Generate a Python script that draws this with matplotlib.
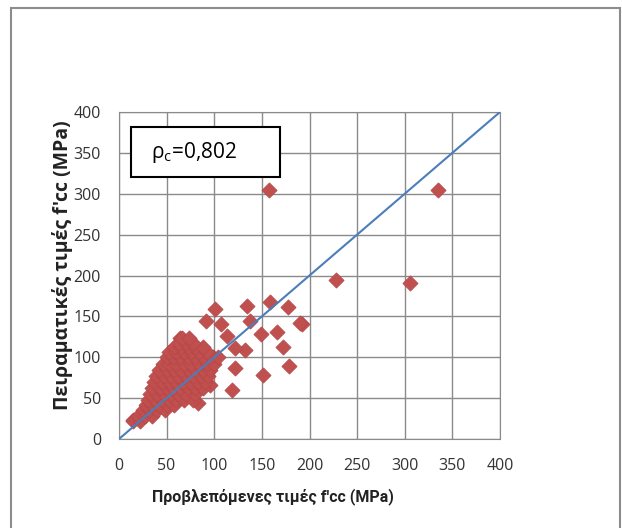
import matplotlib.pyplot as plt
from matplotlib.patches import Rectangle

plt.rcParams['font.family'] = ['Open Sans', 'DejaVu Sans']
plt.rcParams['mathtext.fontset'] = 'custom'
plt.rcParams['mathtext.rm'] = 'Open Sans'

# predicted (x) vs experimental (y) f'cc, MPa - read off the picture
# sparse points
pred_sparse = [157, 335, 228, 305, 101, 134, 159, 177, 91, 107, 138, 192,
               113, 149, 166, 172, 132, 122, 122, 178, 151, 119, 96, 99,
               83, 73, 64, 15, 190]
exp_sparse = [305, 305, 195, 191, 159, 163, 167, 162, 144, 141, 144, 141,
              126, 128, 131, 113, 109, 111, 87, 89, 78, 60, 66, 100,
              44, 121, 123, 23, 142]

# dense cluster, row by row
cluster_rows = {
    22: [15, 22],
    28: [20, 27, 35],
    35: [25, 32, 40, 48],
    42: [28, 35, 42, 50, 58],
    48: [30, 38, 45, 52, 60, 68, 78],
    55: [33, 40, 47, 55, 62, 70, 80],
    62: [35, 43, 50, 57, 64, 72, 80, 88],
    70: [37, 45, 52, 60, 67, 75, 83, 90],
    77: [39, 47, 55, 62, 70, 78, 86, 93],
    85: [42, 50, 58, 65, 73, 80, 88, 96],
    92: [46, 53, 60, 68, 76, 84, 92, 100],
    100: [50, 57, 64, 72, 80, 88, 97, 104],
    107: [53, 60, 68, 76, 84, 92],
    113: [58, 65, 72, 80, 88],
    118: [63, 70, 78],
    123: [66, 74],
}

pred = list(pred_sparse)
exp = list(exp_sparse)
for yv, xs in cluster_rows.items():
    for xv in xs:
        pred.append(xv)
        exp.append(yv)

ticks = [0, 50, 100, 150, 200, 250, 300, 350, 400]

fig = plt.figure(figsize=(6.22, 5.28), dpi=100)
fig.patches.append(Rectangle((11 / 622, -0.05), 609 / 622, 1 - 8 / 528 + 0.05,
                             transform=fig.transFigure, fill=False,
                             edgecolor='#8c8c8c', lw=1.5))
ax = fig.add_axes([119 / 622, 1 - 439 / 528, 381 / 622, 327 / 528])

ax.scatter(pred, exp, marker='D', s=60, color='#C0504D', edgecolor='#B8444A',
           linewidth=0.5, zorder=3)
ax.plot([0, 400], [0, 400], color='#4A7EBB', lw=1.5, zorder=4)

ax.set_xlim(0, 400)
ax.set_ylim(0, 400)
ax.set_xticks(ticks)
ax.set_yticks(ticks)
ax.grid(True, color='#8a8a8a', lw=1)
ax.set_axisbelow(True)
for s in ax.spines.values():
    s.set_color('#8a8a8a')
ax.tick_params(length=0, labelsize=11.5, labelcolor='#333333')
ax.tick_params(axis='x', pad=14)
ax.tick_params(axis='y', pad=13)

ax.add_patch(Rectangle((12.6, 320.5), 156.5, 61.5, facecolor='white',
                       edgecolor='black', lw=1.5, zorder=5))
ax.text(33.6, 351, r'ρ$_{\mathrm{c}}$=0,802', fontsize=15, va='center',
        ha='left', zorder=6)

fig.text(273 / 622, 1 - 497 / 528, "Προβλεπόμενες τιμές f'cc (MPa)",
         fontsize=11.5, fontweight='bold', ha='center', va='center',
         color='#222222', family=['Roboto', 'DejaVu Sans'])
fig.text(63 / 622, 1 - 265 / 528, "Πειραματικές τιμές f'cc (MPa)",
         fontsize=14, fontweight='bold', ha='center', va='center',
         rotation=90, color='#222222')

fig.savefig('out.png', dpi=100)
